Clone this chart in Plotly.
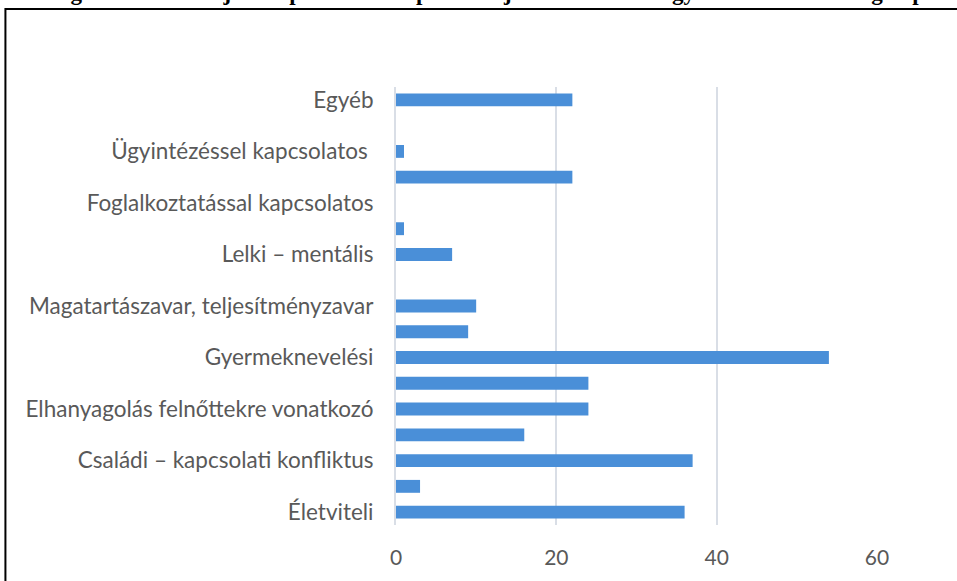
import plotly.graph_objects as go

# categories bottom -> top; every second label is hidden in the source chart
categories = [
    "Életviteli", "", "Családi – kapcsolati konfliktus", "",
    "Elhanyagolás felnőttekre vonatkozó", "", "Gyermeknevelési", "",
    "Magatartászavar, teljesítményzavar", "", "Lelki – mentális", "",
    "Foglalkoztatással kapcsolatos", "", "Ügyintézéssel kapcsolatos ", "",
    "Egyéb",
]
values = [36, 3, 37, 16, 24, 24, 54, 9, 10, 0, 7, 1, 0, 22, 1, 0, 22]
x_ticks = [0, 20, 40, 60]

title_text = ("A családsegítés keretében jelzett problémák típusa a tájékoztatás "
              "és az egyéni esetkezelés megalapozásában")

positions = list(range(len(categories)))
label_pos = [p for p, c in zip(positions, categories) if c]
label_txt = [c for c in categories if c]

GRID = "#D9DEE6"
TEXT = "#595959"

fig = go.Figure(go.Bar(
    x=values, y=positions, orientation="h",
    width=0.5,
    marker=dict(color="#4A8FD8", line=dict(width=0)),
    hoverinfo="x",
))

fig.update_layout(
    width=957, height=581,
    margin=dict(l=396, r=80, t=87, b=56),
    paper_bgcolor="white", plot_bgcolor="white",
    font=dict(family="Lato, Open Sans, sans-serif", color=TEXT, size=22.5),
    showlegend=False,
    xaxis=dict(range=[0, 60], tickvals=x_ticks, showgrid=True, gridcolor=GRID,
               gridwidth=2, zeroline=False, showline=False,
               ticks="", ticklabelstandoff=18, tickfont=dict(size=21)),
    yaxis=dict(range=[-0.5, 16.5], tickvals=label_pos, ticktext=label_txt,
               showgrid=False, zeroline=False, showline=True, linecolor=GRID,
               linewidth=2, ticks="", ticklabelstandoff=16),
    shapes=[dict(type="rect", xref="paper", yref="paper",
                 x0=-0.812, x1=1.3, y0=-0.2, y1=1.178,
                 line=dict(color="black", width=2), layer="below")],
    # title sits mostly above the page edge, as in the source screenshot
    annotations=[dict(text="<b>" + title_text + "</b>", xref="paper", yref="paper",
                      x=0.2, y=1.216, xanchor="center", yanchor="middle",
                      showarrow=False,
                      font=dict(family="Liberation Serif, Times New Roman, serif",
                                size=23, color="black"))],
)

# the page has a default 8px body margin; drop it so the figure sits at 0,0
fig.write_html("out.html", config={"displayModeBar": False},
               post_script="document.body.style.margin='0';")
